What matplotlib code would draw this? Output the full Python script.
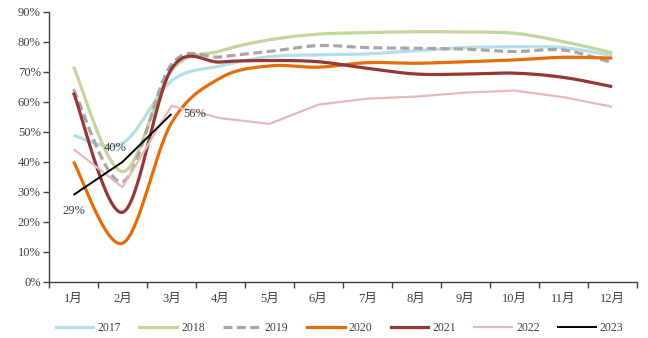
import numpy as np
import matplotlib.pyplot as plt
from matplotlib.lines import Line2D

months = ['1月', '2月', '3月', '4月', '5月', '6月', '7月', '8月', '9月', '10月', '11月', '12月']

r2017 = [48.8, 46.2, 67.0, 72.0, 75.1, 75.7, 76.0, 77.1, 78.1, 78.4, 78.1, 75.5]
r2018 = [71.8, 36.8, 70.5, 77.0, 80.7, 82.6, 83.1, 83.4, 83.3, 82.9, 80.1, 76.4]
r2019 = [64.2, 33.4, 72.5, 75.0, 76.8, 78.8, 78.1, 77.9, 77.6, 76.8, 77.3, 73.1]
r2020 = [40.1, 12.9, 53.0, 68.0, 72.0, 71.6, 73.1, 72.9, 73.4, 74.0, 74.9, 74.6]
r2021 = [63.1, 23.2, 71.0, 73.3, 73.8, 73.4, 71.2, 69.3, 69.3, 69.6, 68.2, 65.1]
r2022 = [44.3, 31.6, 58.7, 54.6, 52.7, 59.1, 61.1, 61.8, 63.1, 63.8, 61.6, 58.4]
r2023 = [29, 40, 56]


def smooth(y, n=30):
    # cubic bezier through each point, Catmull-Rom style tangents
    y = np.asarray(y, dtype=float)
    x = np.arange(len(y), dtype=float)
    p = np.column_stack([x, y])
    ext = np.vstack([p[0], p, p[-1]])
    out = []
    t = np.linspace(0, 1, n)[:, None]
    for i in range(len(p) - 1):
        p0, p1, p2, p3 = ext[i], ext[i + 1], ext[i + 2], ext[i + 3]
        c1 = p1 + (p2 - p0) / 6
        c2 = p2 - (p3 - p1) / 6
        seg = ((1 - t) ** 3) * p1 + 3 * ((1 - t) ** 2) * t * c1 + 3 * (1 - t) * t ** 2 * c2 + t ** 3 * p2
        out.append(seg if i == 0 else seg[1:])
    s = np.vstack(out)
    return s[:, 0], s[:, 1]


serif = ['Liberation Serif', 'Noto Sans CJK SC']
grey = '#404040'

fig = plt.figure(figsize=(6.48, 3.38), dpi=100)
ax = fig.add_axes([0.0756, 0.1657, 0.907, 0.799])

styles = [
    ('2017', r2017, '#B7DDE8', 2.3, '-', True),
    ('2018', r2018, '#C3D69B', 2.3, '-', True),
    ('2019', r2019, '#A6A6A6', 2.3, (0, (2.8, 1.4)), True),
    ('2020', r2020, '#E46C0A', 2.3, '-', True),
    ('2021', r2021, '#953735', 2.3, '-', True),
    ('2022', r2022, '#E6B9B8', 1.6, '-', False),
    ('2023', r2023, '#000000', 1.4, '-', False),
]

handles = []
for name, vals, color, lw, ls, sm in styles:
    if sm:
        xs, ys = smooth(vals)
    else:
        xs, ys = np.arange(len(vals)), np.asarray(vals, dtype=float)
    ax.plot(xs, ys, color=color, lw=lw, ls=ls, solid_capstyle='butt')
    handles.append(Line2D([], [], color=color, lw=lw, ls=ls, label=name))

# 2023 value labels
ax.text(0, r2023[0] - 3.5, f'{r2023[0]}%', ha='center', va='top', fontsize=9,
        family=serif, color=grey)
ax.text(1 - 0.15, r2023[1] + 2.5, f'{r2023[1]}%', ha='center', va='bottom', fontsize=9,
        family=serif, color=grey)
ax.text(2 + 0.25, r2023[2], f'{r2023[2]}%', ha='left', va='center', fontsize=9,
        family=serif, color=grey)

ax.set_xlim(-0.5, 11.5)
ax.set_ylim(0, 90)
ax.set_yticks(np.arange(0, 91, 10))
ax.set_yticklabels([f'{v}%' for v in range(0, 91, 10)], family=serif, fontsize=9, color=grey)
ax.set_xticks(np.arange(-0.5, 12, 1))
ax.set_xticklabels([])
ax.set_xticks(np.arange(12), minor=True)
ax.set_xticklabels(months, minor=True, family=serif, fontsize=9, color=grey)
ax.tick_params(axis='x', which='minor', length=0, pad=8)
ax.tick_params(axis='x', which='major', length=4, width=1, color=grey, direction='out')
ax.tick_params(axis='y', length=4, width=1, color=grey, direction='out', pad=2)

for s in ['top', 'right']:
    ax.spines[s].set_visible(False)
for s in ['left', 'bottom']:
    ax.spines[s].set_color(grey)
    ax.spines[s].set_linewidth(1)

leg = fig.legend(handles=handles, loc='center', bbox_to_anchor=(0.524, 0.03), ncol=7,
                 frameon=False, prop={'family': serif, 'size': 8.5},
                 handlelength=3.2, handletextpad=0.34, columnspacing=1.55)
for t in leg.get_texts():
    t.set_color(grey)

fig.savefig('out.png', dpi=100)
